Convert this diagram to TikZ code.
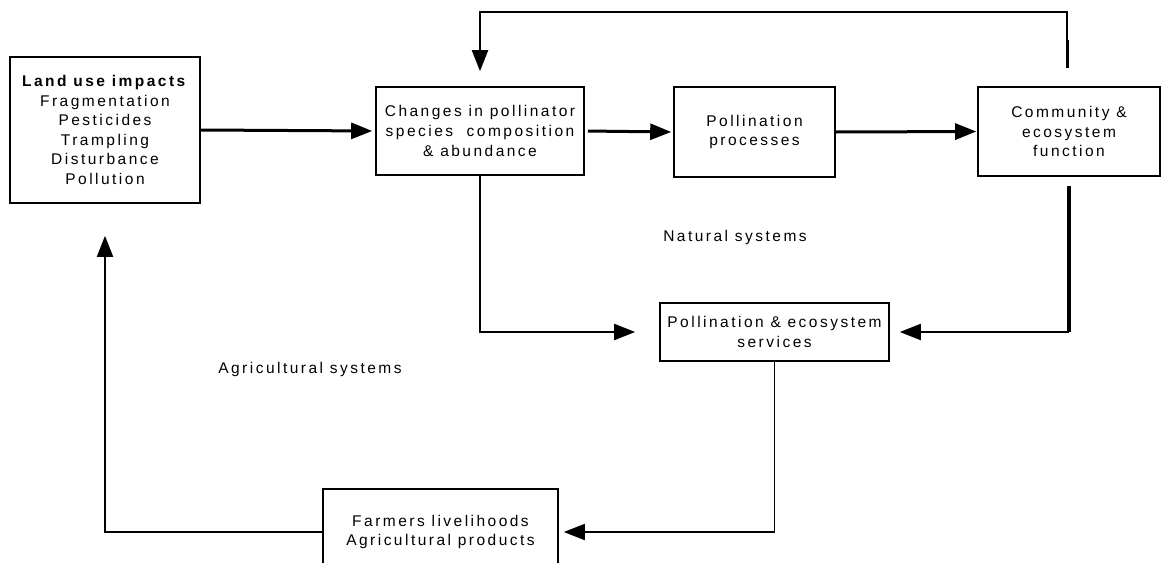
\documentclass[tikz,border=0pt]{standalone}
\usepackage{fontspec}
\setmainfont{Liberation Sans}[LetterSpace=16]
\usetikzlibrary{arrows.meta}
\begin{document}
\begin{tikzpicture}[x=1pt,y=-1pt,
  box/.style={draw,line width=1.6pt,align=center,inner sep=0pt,font=\fontsize{15.5}{19.6}\selectfont},
  lbl/.style={font=\fontsize{15.5}{19.6}\selectfont},
  tip/.style={-{Triangle[length=21pt,width=16pt]}},
  thickln/.style={line width=3pt},
  thinln/.style={line width=1.9pt}]
\clip (0,0) rectangle (1161,562);
\fill[white] (0,0) rectangle (1161,562);
\node[box,minimum width=190pt,minimum height=146pt] (land) at (105,130) {\textbf{Land use impacts}\\Fragmentation\\Pesticides\\Trampling\\Disturbance\\Pollution};
\node[box,minimum width=208pt,minimum height=88pt] (changes) at (480,131) {Changes in pollinator\\species\ \ composition\\\& abundance};
\node[box,minimum width=161pt,minimum height=90pt] (proc) at (754.5,132) {Pollination\\processes};
\node[box,minimum width=182pt,minimum height=89pt] (comm) at (1069,131.5) {Community \&\\ecosystem\\function};
\node[box,minimum width=229pt,minimum height=58pt] (serv) at (774.5,332) {Pollination \& ecosystem\\services};
\node[box,minimum width=235pt,minimum height=86pt] (farm) at (440.5,532) {Farmers livelihoods\\Agricultural products};
\node[lbl] (nat) at (735,237) {Natural systems};
\node[lbl] (agr) at (310,369) {Agricultural systems};
\coordinate (fb) at (1067,68);
\draw[thickln,tip,shorten >=3pt] (land.east) -- (changes.west);
\draw[thickln,tip,shorten <=3pt,shorten >=2pt] (changes.east) -- (proc.west);
\draw[thickln,tip,shorten >=1pt] (proc.east) -- (comm.west);
\draw[line width=2pt,tip,shorten >=15pt] (fb) |- (changes.north |- 0,12) -- (changes.north);
\draw[line width=3pt] (fb) -- (1067,40);
\draw[line width=3.5pt,shorten <=9pt] (comm.south) -- (comm.south |- serv.east);
\draw[line width=2pt,tip,shorten >=10pt] (comm.south |- serv.east) -- (serv.east);
\draw[thinln,tip,shorten >=24pt] (changes.south) |- (serv.west);
\draw[thinln,tip,shorten >=5pt] (serv.south) |- (farm.east);
\draw[thinln,tip,shorten >=32pt] (farm.west) -| (land.south);
\end{tikzpicture}
\end{document}
